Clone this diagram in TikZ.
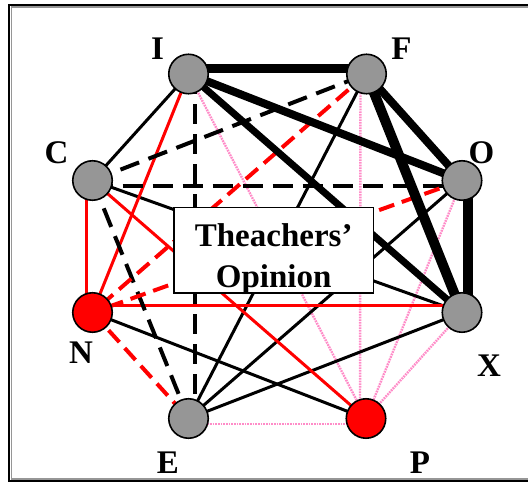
\documentclass[tikz,border=0pt]{standalone}
\usepackage{fontspec}
\setmainfont{Liberation Serif}
\usetikzlibrary{calc}
\pgfdeclarelayer{bg}
\pgfsetlayers{bg,main}
\definecolor{nodegray}{RGB}{150,150,150}
\definecolor{pinkline}{RGB}{255,140,200}
\begin{document}
\begin{tikzpicture}[x=0.75pt,y=-0.75pt,
  vtx/.style={circle, draw=black, line width=1.2pt, minimum size=29.6pt, inner sep=0pt, fill=nodegray},
  redvtx/.style={vtx, fill=red},
  lbl/.style={anchor=base, inner sep=0pt, font=\fontsize{24.75}{30}\selectfont\bfseries},
  heavy/.style={line width=6.5pt},
  thinblack/.style={line width=2.25pt, black},
  blackdash/.style={line width=3pt, black, dash pattern=on 15pt off 7.5pt},
  redline/.style={line width=2.25pt, red},
  reddash/.style={line width=3pt, red, dash pattern=on 12pt off 6pt},
  pinkdot/.style={line width=1.8pt, pinkline, dash pattern=on 1.3pt off 0.7pt}]
\useasboundingbox (0,0) rectangle (528,482);
\begin{scope}
  \clip (0,0) rectangle (528,482);
  \draw[line width=1.4pt, black] (9.3,5) rectangle (540,481);
  \draw[line width=0.9pt, nodegray] (11.3,7) rectangle (540,479);
\end{scope}

% vertices
\node[vtx] (I) at (188.5,74) {};
\node[vtx] (F) at (366.5,74) {};
\node[vtx] (O) at (462,180.5) {};
\node[vtx] (X) at (462,312.5) {};
\node[redvtx] (P) at (366,418.5) {};
\node[vtx] (E) at (188.5,418.5) {};
\node[redvtx] (N) at (92.5,312.5) {};
\node[vtx] (C) at (92.5,180.5) {};

% labels
\node[lbl] (lI) at (157.5,59) {I};
\node[lbl] (lF) at (401.5,59) {F};
\node[lbl] (lO) at (481.5,163.5) {O};
\node[lbl] (lC) at (56.5,163.5) {C};
\node[lbl] (lN) at (81,363) {N};
\node[lbl] (lE) at (168,473) {E};
\node[lbl] (lX) at (489,376) {X};
\node[lbl] (lP) at (420,473) {P};

% central box
\node[draw=black, fill=white, line width=1.2pt, minimum width=149.5pt, minimum height=64pt, inner sep=0pt] (box) at (273.7,250.2) {};
\node[lbl] (t1) at (273.7,246.5) {Theachers’};
\node[lbl] (t2) at (273.7,287.5) {Opinion};

\begin{pgfonlayer}{bg}
  % pink dotted
  \draw[pinkdot] (I.center) -- (P.center);
  \draw[pinkdot] ($(F.center)+(-6,0)$) -- ($(P.center)+(-6,0)$);
  \draw[pinkdot] (O.center) -- (P.center);
  \draw[pinkdot] (X.center) -- (P.center);
  \draw[pinkdot] ($(E.center)+(0,5.5)$) -- ($(P.center)+(0,5.5)$);
  % thin black
  \draw[thinblack] (I.center) -- (C.center);
  \draw[thinblack] (F.center) -- (E.center);
  \draw[thinblack] (O.center) -- (E.center);
  \draw[thinblack] (C.center) -- (X.center);
  \draw[thinblack] (N.center) -- (P.center);
  \draw[thinblack] (E.center) -- (X.center);
  % red solid
  \draw[redline] (I.center) -- (N.center);
  \draw[redline] ($(C.center)+(-6.5,0)$) -- ($(N.center)+(-6.5,0)$);
  \draw[redline] (C.center) -- (P.center);
  \draw[redline] ($(N.center)+(0,-7)$) -- ($(X.center)+(0,-7)$);
  % black dashed
  \draw[blackdash] ($(I.center)+(6.5,0)$) -- ($(E.center)+(6.5,0)$);
  \draw[blackdash] (C.center) -- (F.center);
  \draw[blackdash] ($(C.center)+(0,5.5)$) -- ($(O.center)+(0,5.5)$);
  \draw[blackdash] (C.center) -- (E.center);
  % red dashed
  \draw[reddash] (F.center) -- (N.center);
  \draw[reddash] (O.center) -- (N.center);
  \draw[reddash] (N.center) -- (E.center);
  % heavy black
  \draw[heavy, line width=6.75pt] ($(I.center)+(0,-5.5)$) -- ($(F.center)+(0,-5.5)$);
  \draw[heavy, line width=6pt] (I.center) -- (O.center);
  \draw[heavy, line width=5.25pt] (I.center) -- (X.center);
  \draw[heavy, line width=6pt] (F.center) -- (O.center);
  \draw[heavy, line width=7.5pt] (F.center) -- (X.center);
  \draw[heavy, line width=7.5pt] ($(O.center)+(6,0)$) -- ($(X.center)+(6,0)$);
\end{pgfonlayer}
\end{tikzpicture}
\end{document}
